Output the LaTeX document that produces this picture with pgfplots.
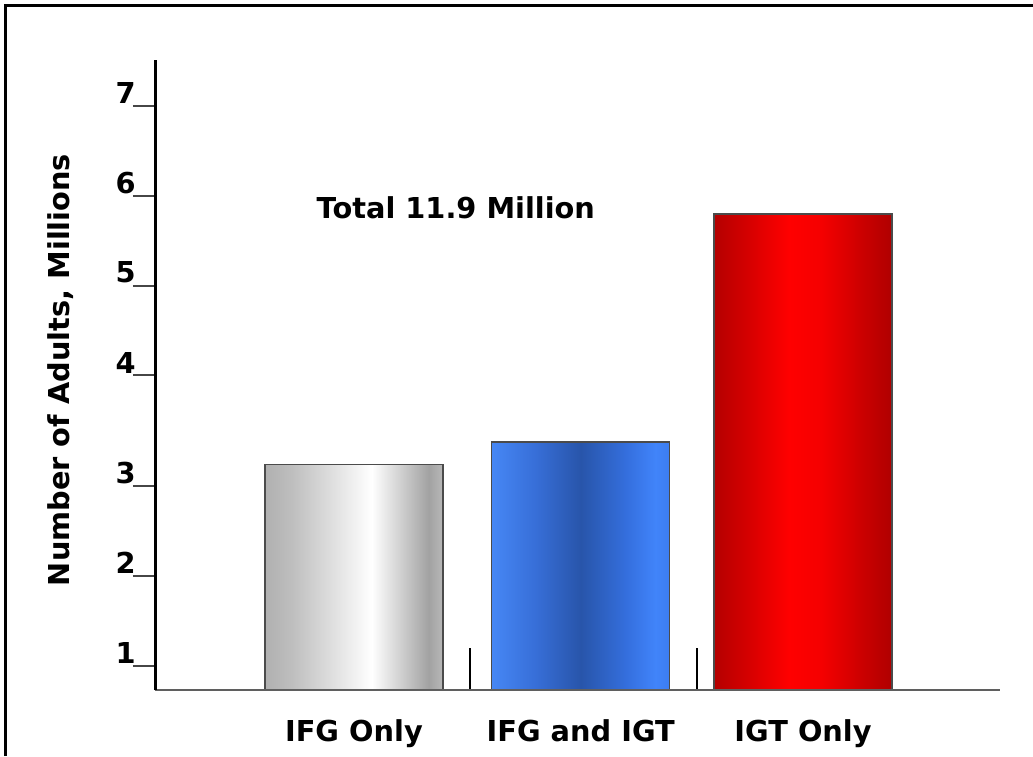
\documentclass[border=0pt]{standalone}
\usepackage{fontspec}
\setmainfont{DejaVu Sans}
\usepackage{pgfplots}
\pgfplotsset{compat=1.18}

\definecolor{gA}{RGB}{176,176,176}
\definecolor{gB}{RGB}{190,190,190}
\definecolor{gC}{RGB}{162,162,162}
\definecolor{gD}{RGB}{184,184,184}
\definecolor{bA}{RGB}{70,135,245}
\definecolor{bB}{RGB}{55,110,215}
\definecolor{bC}{RGB}{40,85,170}
\definecolor{bD}{RGB}{52,110,220}
\definecolor{bE}{RGB}{65,132,250}
\definecolor{bF}{RGB}{60,125,240}
\definecolor{rA}{RGB}{180,0,0}
\definecolor{rB}{RGB}{215,0,0}
\definecolor{rC}{RGB}{255,0,0}
\definecolor{rD}{RGB}{245,0,0}
\definecolor{rE}{RGB}{200,0,0}
\definecolor{rF}{RGB}{175,0,0}
\definecolor{barline}{RGB}{75,75,75}
\definecolor{xaxis}{RGB}{95,95,95}
\definecolor{ytickc}{RGB}{70,70,70}

\pgfdeclarehorizontalshading{grayshade}{100bp}{color(0bp)=(gA); color(25bp)=(gA); color(32.5bp)=(gB); color(55bp)=(white); color(71bp)=(gC); color(75bp)=(gD); color(100bp)=(gD)}
\pgfdeclarehorizontalshading{blueshade}{100bp}{color(0bp)=(bA); color(25bp)=(bA); color(37.5bp)=(bB); color(50bp)=(bC); color(62.5bp)=(bD); color(71bp)=(bE); color(75bp)=(bF); color(100bp)=(bF)}
\pgfdeclarehorizontalshading{redshade}{100bp}{color(0bp)=(rA); color(25bp)=(rA); color(35bp)=(rB); color(46bp)=(rC); color(55bp)=(rD); color(67.5bp)=(rE); color(75bp)=(rF); color(100bp)=(rF)}

\newcommand{\lbl}{\fontsize{14.4}{17}\selectfont\bfseries}

\begin{document}
\begin{tikzpicture}
\useasboundingbox (0,0) rectangle (516.5pt,378pt);
\draw[line width=1.5pt] (2.5pt,0) -- (2.5pt,375pt) -- (516.5pt,375pt);
\begin{axis}[
  at={(77.5pt,33pt)}, anchor=south west,
  scale only axis, width=422.5pt, height=315pt,
  xmin=-0.886, xmax=2.877, ymin=0.733, ymax=7.513,
  y coord trafo/.code={\pgfmathparse{ifthenelse(#1<=3,#1,ifthenelse(#1<4,3+(#1-3)*1.235,#1+0.235))}},
  axis x line*=bottom, axis y line*=left,
  x axis line style={line width=1pt, color=xaxis},
  y axis line style={line width=1.5pt, color=black},
  axis on top,
  tick align=outside,
  major tick length=11pt,
  minor tick length=21pt,
  ytick={1,2,3,4,5,6,7},
  yticklabels={\textbf{1},\textbf{2},\textbf{3},\textbf{4},\textbf{5},\textbf{6},\textbf{7}},
  y tick style={line width=1pt, color=ytickc},
  yticklabel style={anchor=south east, inner sep=0pt, font=\lbl, yshift=1pt, xshift=1.5pt},
  xtick={0,1.01,2},
  xticklabels={IFG Only, IFG and IGT, IGT Only},
  major x tick style={draw=none},
  minor xtick={0.517,1.528},
  minor x tick style={line width=0.6pt, color=black, yshift=21pt},
  xticklabel style={anchor=base, inner sep=0pt, font=\lbl, yshift=-14.5pt},
  ylabel={Number of Adults, Millions},
  ylabel style={at={(axis description cs:-0.112,0.508)}, anchor=center, font=\lbl},
  mybar/.style={ybar, bar width=89pt, bar shift=0pt, draw=barline, line width=0.7pt, shade, shading=#1},
]
\addplot[mybar=grayshade] coordinates {(0,3.2)};
\addplot[mybar=blueshade] coordinates {(1.01,3.4)};
\addplot[mybar=redshade] coordinates {(2,5.8)};
\node[font=\lbl] at (rel axis cs:0.356,0.765) {Total 11.9 Million};
\end{axis}
\end{tikzpicture}
\end{document}
